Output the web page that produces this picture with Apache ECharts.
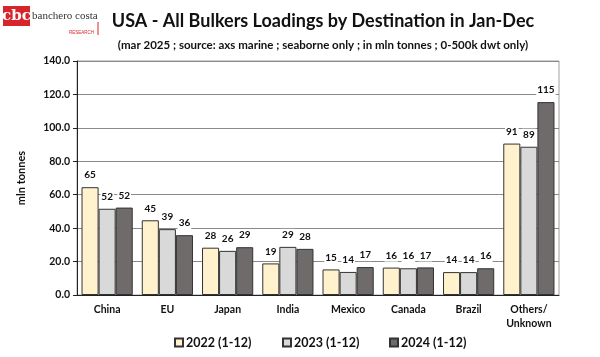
<!DOCTYPE html>
<html><head><meta charset="utf-8">
<script src="https://cdn.jsdelivr.net/npm/echarts@6/dist/echarts.min.js"></script>
<style>html,body{margin:0;padding:0;background:#fff}#c{width:600px;height:357px}</style>
</head><body><div id="c"></div>
<script>
const categories = ['China','EU','Japan','India','Mexico','Canada','Brazil','Others/\nUnknown'];
const seriesNames = ['2022 (1-12)','2023 (1-12)','2024 (1-12)'];
const v2022 = [64.5, 44.7, 28.3, 18.9, 15.3, 16.4, 13.7, 90.6];
const v2023 = [51.6, 39.4, 26.4, 28.8, 13.8, 16.0, 13.7, 88.7];
const v2024 = [52.3, 35.8, 28.6, 27.6, 16.7, 16.5, 16.0, 115.4];
const yTicks = [0,20,40,60,80,100,120,140];
const colors = ['#FFF2CC','#D9D9D9','#6F6B6B'];
const FONT = 'Lato, "Open Sans", sans-serif';
const legendLefts = [169, 277, 384];

const chart = echarts.init(document.getElementById('c'), null, {renderer:'canvas'});
const values = [v2022, v2023, v2024];
chart.setOption({
  animation:false,
  backgroundColor:'#fff',
  textStyle:{fontFamily:FONT},
  title:[
    {text:'USA - All Bulkers Loadings by Destination in Jan-Dec', left:318, top:7, textAlign:'center',
     textStyle:{fontFamily:FONT, fontSize:18, fontWeight:'bold', color:'#111'}},
    {text:'(mar 2025 ; source: axs marine ; seaborne only ; in mln tonnes ; 0-500k dwt only)', left:318, top:34, textAlign:'center',
     textStyle:{fontFamily:FONT, fontSize:11.5, fontWeight:'bold', color:'#111'}}
  ],
  grid:{left:77, right:41, top:61, bottom:62, show:true, borderColor:'#a0a0a0', borderWidth:1},
  legend: seriesNames.map((n,i)=>({
    data:[n], left:legendLefts[i], top:331, itemWidth:8, itemHeight:8, icon:'rect', itemGap:4,
    textStyle:{fontFamily:FONT, fontSize:12.5, fontWeight:'bold', color:'#111', padding:[0,0,0,-2]}
  })),
  xAxis:{type:'category', data:categories,
    axisLine:{lineStyle:{color:'#222'}}, axisTick:{show:false},
    axisLabel:{fontFamily:FONT, fontSize:10.5, fontWeight:'bold', color:'#111', margin:8, lineHeight:14, interval:0}},
  yAxis:{type:'value', min:0, max:140, interval:20,
    name:'mln tonnes', nameLocation:'middle', nameGap:50, nameRotate:90,
    nameTextStyle:{fontFamily:FONT, fontSize:11, fontWeight:'bold', color:'#111'},
    axisLine:{show:true, lineStyle:{color:'#222'}},
    axisTick:{show:true, length:4, lineStyle:{color:'#222'}},
    splitLine:{lineStyle:{color:'#8a8a8a', width:1}},
    axisLabel:{fontFamily:FONT, fontSize:10.5, fontWeight:'bold', color:'#111', margin:7,
      formatter:v=>yTicks.includes(v)?v.toFixed(1):''}},
  series: seriesNames.map((n,i)=>({
    name:n, type:'bar', data:values[i], barGap:'0%', barCategoryGap:'15%',
    itemStyle:{color:colors[i], borderColor:'#333', borderWidth:1},
    label:{show:true, position:'top', distance:6, fontFamily:FONT, fontSize:10, fontWeight:'bold', color:'#111',
      backgroundColor:'#fff', padding:[1,1],
      formatter:p=>Math.round(p.value)}
  })),
  graphic:[
    {type:'rect', shape:{x:3,y:6,width:27,height:20}, style:{fill:'#d7262b'}},
    {type:'text', style:{x:16.5,y:16, text:'cbc', fill:'#fff', font:'bold 15px "DejaVu Serif", serif', textAlign:'center', textVerticalAlign:'middle'}},
    {type:'text', style:{x:32,y:16, text:'banchero costa', fill:'#333', font:'11px "Liberation Serif", "DejaVu Serif", serif', textVerticalAlign:'middle'}},
    {type:'text', style:{x:94,y:33, text:'RESEARCH', fill:'#d7262b', font:'4.5px "Liberation Sans", sans-serif', textAlign:'right', textVerticalAlign:'middle'}},
    {type:'line', shape:{x1:98,y1:22,x2:98,y2:35}, style:{stroke:'#d7262b', lineWidth:1}}
  ]
});
</script></body></html>
